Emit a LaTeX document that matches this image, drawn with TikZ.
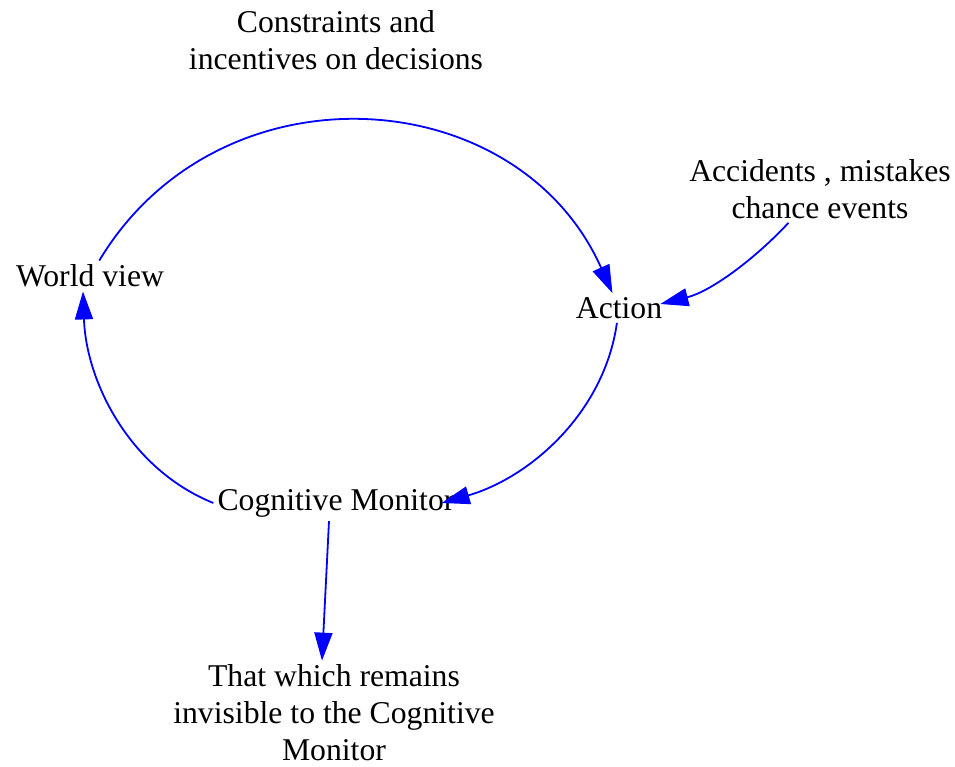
\documentclass[tikz,border=0pt]{standalone}
\usepackage{fontspec}
\setmainfont{Liberation Serif}
\usetikzlibrary{arrows.meta}

\begin{document}
\begin{tikzpicture}[x=10pt,y=10pt]
        \tikzstyle{every node}+=[inner sep=4pt, align=center, font=\fontsize{31.7}{37}\selectfont]
        \tikzstyle{link}=[blue, line width=1.8pt, -{Triangle[length=28pt,width=18pt]}]
        \useasboundingbox (0,0) rectangle (95.5,-76.6);
        \node (top) at (33.6,-4.0) {Constraints and\\incentives on decisions};
        \node (wv) at (9.0,-27.6) {World view};
        \node (act) at (61.9,-30.8) {Action};
        \node (acc) at (82.0,-18.9) {Accidents , mistakes\\chance events};
        \node (cog) at (33.6,-50.3) {Cognitive Monitor};
        \node (inv) at (33.4,-71.3) {That which remains\\invisible to the Cognitive\\Monitor};
        \draw [link] (wv) to[out=59,in=114,looseness=1.16] (act);
        \draw [link] (acc) to[out=227,in=14,looseness=0.87] ([xshift=-6pt,yshift=4pt]act.east);
        \draw [link] (act) to[out=-98,in=16,looseness=0.93] ([xshift=-17pt]cog.east);
        \draw [link] (cog.west) to[out=158,in=-88,looseness=0.93] ([xshift=-7pt]wv.south);
        \draw [link] ([xshift=-7pt]cog.south) -- ([xshift=-12pt]inv.north);
\end{tikzpicture}
\end{document}
